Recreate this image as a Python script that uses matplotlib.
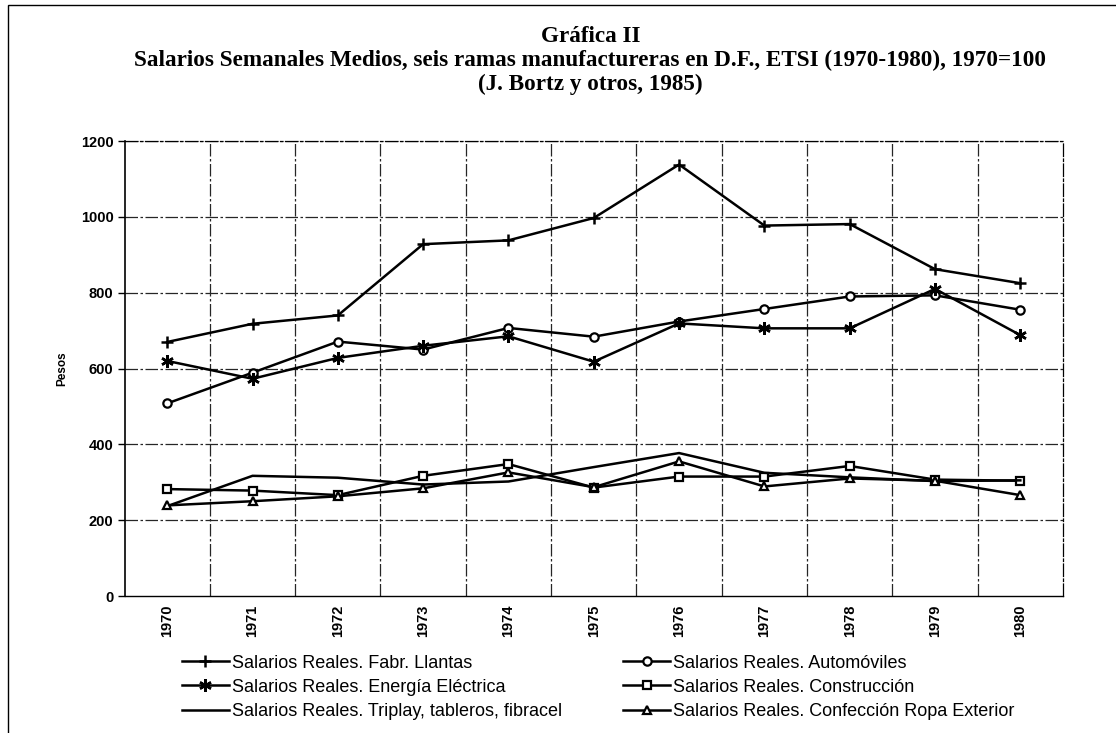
import matplotlib
matplotlib.use("Agg")
import matplotlib.pyplot as plt
from matplotlib.patches import Rectangle

# Datos
anios = ["1970", "1971", "1972", "1973", "1974", "1975", "1976", "1977", "1978", "1979", "1980"]
llantas = [670, 718, 740, 928, 938, 997, 1138, 977, 981, 862, 825]
automoviles = [508, 589, 671, 650, 707, 684, 724, 757, 790, 793, 755]
energia = [620, 573, 628, 660, 685, 618, 719, 706, 706, 810, 688]
construccion = [282, 278, 266, 317, 348, 286, 315, 315, 343, 307, 304]
triplay = [237, 317, 312, 294, 302, 340, 377, 325, 313, 303, 305]
confeccion = [239, 250, 263, 284, 326, 287, 355, 289, 310, 304, 266]

y_ticks = [0, 200, 400, 600, 800, 1000, 1200]

fig = plt.figure(figsize=(11.16, 7.33), dpi=100)
ax = fig.add_axes([0.1116, 0.1869, 0.8409, 0.6207])

x = list(range(len(anios)))
lw = 1.8

l1, = ax.plot(x, llantas, color="black", lw=lw, marker="+", ms=9, mew=1.8,
              label="Salarios Reales. Fabr. Llantas")
l2, = ax.plot(x, automoviles, color="black", lw=lw, marker="o", ms=6, mew=1.6,
              mfc="white", label="Salarios Reales. Automóviles")
l3, = ax.plot(x, energia, color="black", lw=lw, marker=(6, 2, 0), ms=9, mew=1.8,
              label="Salarios Reales. Energía Eléctrica")
l4, = ax.plot(x, construccion, color="black", lw=lw, marker="s", ms=6, mew=1.6,
              mfc="white", label="Salarios Reales. Construcción")
l5, = ax.plot(x, triplay, color="black", lw=lw,
              label="Salarios Reales. Triplay, tableros, fibracel")
l6, = ax.plot(x, confeccion, color="black", lw=lw, marker="^", ms=6, mew=1.6,
              mfc="white", label="Salarios Reales. Confección Ropa Exterior")

# Ejes
ax.set_xlim(-0.5, len(anios) - 0.5)
ax.set_ylim(0, 1200)
ax.set_yticks(y_ticks)
ax.set_yticklabels([str(v) for v in y_ticks], fontsize=10.5, fontweight="bold",
                   family="Liberation Sans")
ax.set_xticks(x)
ax.set_xticklabels(anios, rotation=90, fontsize=10.5, fontweight="bold",
                   family="Liberation Sans")
ax.tick_params(axis="x", length=0, pad=6)
ax.tick_params(axis="y", length=5, width=1, pad=3)
ax.set_ylabel("Pesos", fontsize=8.5, fontweight="bold", family="Liberation Sans",
              labelpad=9)

# Rejilla
gls = (0, (10, 2, 2, 2))
for v in y_ticks[1:]:
    ax.axhline(v, color="0.15", lw=0.9, ls=gls, zorder=0)
for i in range(len(anios) - 1):
    ax.axvline(i + 0.5, color="0.15", lw=0.9, ls=gls, zorder=0)
for s in ["top", "right"]:
    ax.spines[s].set_linestyle(gls)
    ax.spines[s].set_linewidth(0.9)
ax.spines["left"].set_linewidth(1.2)
ax.spines["bottom"].set_linewidth(1.0)

# Títulos
tfont = dict(family="Liberation Serif", fontweight="bold", fontsize=16.7,
             ha="center", va="center")
fig.text(0.529, 1 - 37 / 733, "Gráfica II", **tfont)
fig.text(0.529, 1 - 60 / 733,
         "Salarios Semanales Medios, seis ramas manufactureras en D.F., ETSI (1970-1980), 1970=100",
         **tfont)
fig.text(0.529, 1 - 84 / 733, "(J. Bortz y otros, 1985)", **tfont)

# Leyenda
leg = fig.legend(handles=[l1, l3, l5, l2, l4, l6], ncol=2, loc="upper left",
                 bbox_to_anchor=(0.163, 0.107), frameon=False,
                 prop={"family": "Liberation Sans", "size": 13},
                 handlelength=2.6, handletextpad=0.15, columnspacing=3.4,
                 labelspacing=0.4, borderaxespad=0, borderpad=0)

# Marco exterior
fig.patches.append(Rectangle((8 / 1116, -0.05), 1.2, 0.05 + 1 - 5 / 733,
                             transform=fig.transFigure, fill=False,
                             edgecolor="black", lw=1.0))

fig.savefig("out.png", dpi=100)
